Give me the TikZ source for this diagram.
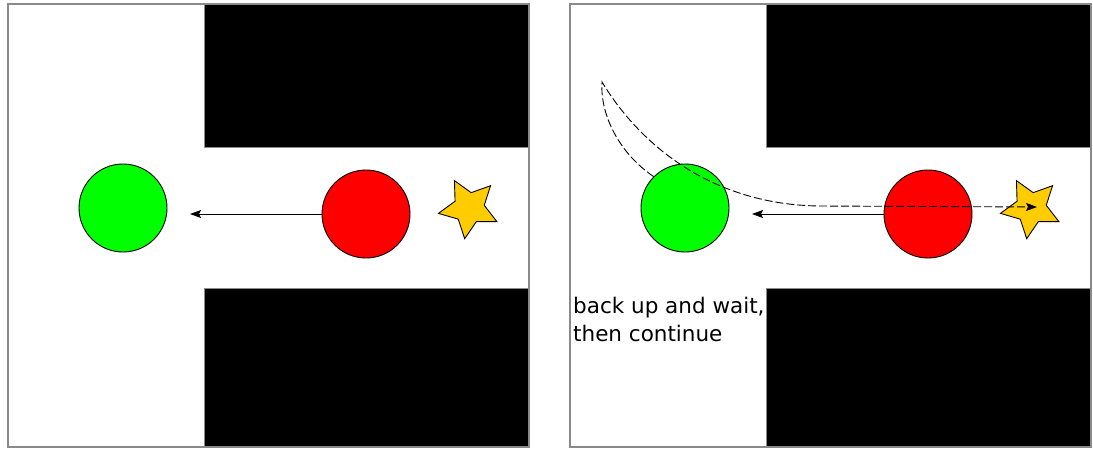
\documentclass[tikz,border=0pt]{standalone}
\usepackage{fontspec}
\setmainfont{DejaVu Sans}
\usetikzlibrary{shapes.geometric,arrows.meta}
\definecolor{gold}{HTML}{FFCC00}
\definecolor{framegray}{HTML}{8A8A8A}
\tikzset{
  wall/.style={fill=black,draw=framegray,line width=0.8pt},
  panel/.style={draw=framegray,line width=1.6pt},
  robot/.style={circle,draw=black,line width=0.9pt,minimum size=88pt,inner sep=0pt},
  goal/.style={star,star points=5,star point ratio=2,draw=black,line width=0.9pt,fill=gold,minimum size=62pt,inner sep=0pt,rotate=28},
  move/.style={-{Stealth[length=11pt,width=8pt,inset=2pt]},line width=1pt},
  plan/.style={-{Stealth[length=11pt,width=8pt,inset=2pt]},line width=0.9pt,dash pattern=on 8pt off 3pt},
}
\begin{document}
\begin{tikzpicture}[x=1pt,y=-1pt]
\useasboundingbox (0,0) rectangle (1093,448);
% left panel
\fill[white] (8,4) rectangle (529,447);
\draw[wall] (204,4) rectangle (529,147);
\draw[wall] (204,288) rectangle (529,447);
\draw[panel] (8,4) rectangle (529,447);
\node[robot,fill=green] (g1) at (123,208) {};
\node[robot,fill=red] (r1) at (366,214) {};
\node[goal] (s1) at (469,208) {};
\coordinate (t1) at (190,214);
\draw[move] (r1.west) -- (t1);
% right panel
\draw[wall] (766,4) rectangle (1091,147);
\draw[wall] (766,288) rectangle (1091,447);
\draw[panel] (570,4) rectangle (1091,447);
\node[robot,fill=green] (g2) at (685,208) {};
\node[robot,fill=red] (r2) at (928,214) {};
\node[goal] (s2) at (1031,208) {};
\coordinate (t2) at (752,214);
\draw[move] (r2.west) -- (t2);
\coordinate (cusp) at (602,82);
\coordinate (bend) at (820,206);
\coordinate (pt) at (1037,207);
\draw[plan] (g2.135) .. controls (615,150) and (600,110) .. (cusp)
  .. controls (642,148) and (715,205) .. (bend) -- (pt);
\node[anchor=base west,align=left,inner sep=0pt,font=\fontsize{21.5}{28}\selectfont] (lbl) at (573,341) {back up and wait,\\then continue};
\end{tikzpicture}
\end{document}
